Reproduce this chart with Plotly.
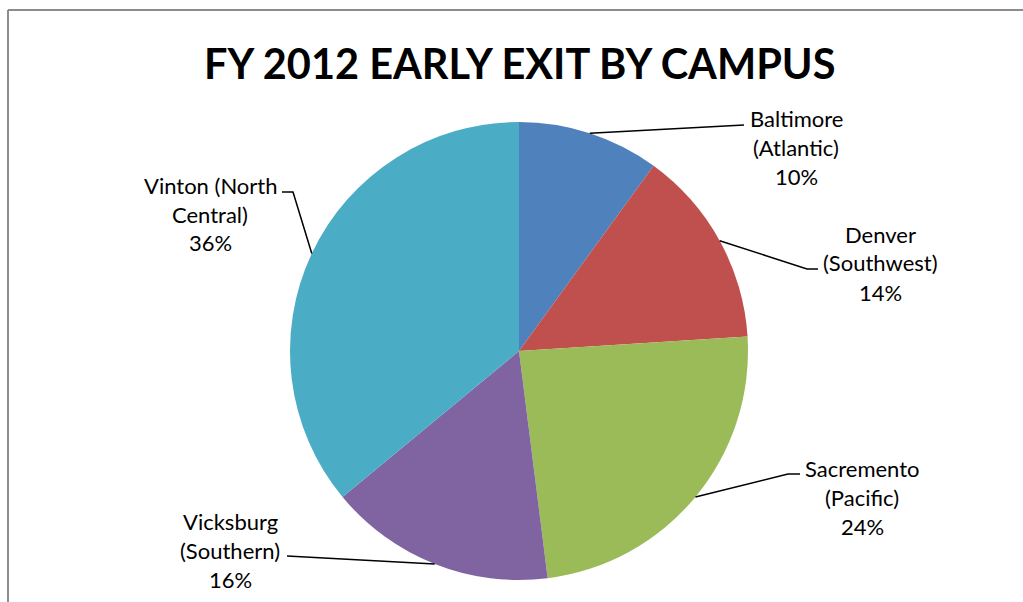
import plotly.graph_objects as go
import math

# --- data -------------------------------------------------------------
campuses = ["Baltimore\n(Atlantic)", "Denver\n(Southwest)", "Sacremento\n(Pacific)",
            "Vicksburg\n(Southern)", "Vinton (North\nCentral)"]
early_exit_pct = [10, 14, 24, 16, 36]
slice_colors = ["#4F81BD", "#C0504D", "#9BBB59", "#8064A2", "#4BACC6"]

# --- layout constants (pixels) ---------------------------------------
W, H = 1023, 602
CX, CY, R = 519, 351, 229          # pie centre / radius
LINE_GAP = 29                      # spacing of label lines
LABEL_FONT = dict(family="Lato", size=22, color="#000000")

# label block centre (x, first line y) and leader-line bend points
label_pos = [(796, 118), (880, 234), (862, 468), (230, 521), (210, 185)]
leader_bends = [
    [(744, 125)],
    [(807, 269), (818, 269)],
    [(788, 474), (800, 474)],
    [(287, 556)],
    [(293, 192), (282, 192)],
]


def px(x):
    return x / W


def py(y):
    return 1 - y / H


fig = go.Figure(go.Pie(
    labels=[c.replace("\n", " ") for c in campuses],
    values=early_exit_pct,
    sort=False,
    direction="clockwise",
    rotation=0,
    marker=dict(colors=slice_colors, line=dict(width=0)),
    textinfo="none",
    hoverinfo="label+percent",
    showlegend=False,
    domain=dict(x=[px(CX - R), px(CX + R)], y=[py(CY + R), py(CY - R)]),
))

shapes = []
annotations = []
total = sum(early_exit_pct)
cum = 0
for i, v in enumerate(early_exit_pct):
    mid = (cum + v / 2) / total * 2 * math.pi   # clockwise from 12 o'clock
    cum += v
    sx = CX + R * math.sin(mid)
    sy = CY - R * math.cos(mid)
    pts = [(sx, sy)] + leader_bends[i]
    path = "M " + " L ".join(f"{px(a):.5f},{py(b):.5f}" for a, b in pts)
    shapes.append(dict(type="path", path=path, xref="paper", yref="paper",
                       line=dict(color="#000000", width=1.5)))
    lines = campuses[i].split("\n") + [f"{round(v / total * 100)}%"]
    lx, ly = label_pos[i]
    for k, t in enumerate(lines):
        annotations.append(dict(text=t, x=px(lx), y=py(ly + k * LINE_GAP),
                                xref="paper", yref="paper", showarrow=False,
                                xanchor="center", yanchor="middle", font=LABEL_FONT))

# chart frame (left and top edges)
frame = "#8C8C8C"
shapes.append(dict(type="line", xref="paper", yref="paper",
                   x0=px(8), x1=px(8), y0=0, y1=py(10), line=dict(color=frame, width=2)))
shapes.append(dict(type="line", xref="paper", yref="paper",
                   x0=px(8), x1=1, y0=py(10), y1=py(10), line=dict(color=frame, width=2)))

annotations.append(dict(text="<b>FY 2012 EARLY EXIT BY CAMPUS</b>", x=px(519), y=py(63),
                        xref="paper", yref="paper", showarrow=False,
                        xanchor="center", yanchor="middle",
                        font=dict(family="Lato", size=41.5, color="#000000")))

fig.update_layout(
    width=W, height=H,
    margin=dict(l=0, r=0, t=0, b=0),
    paper_bgcolor="white", plot_bgcolor="white",
    shapes=shapes, annotations=annotations,
)

fig.write_html("out.html")
